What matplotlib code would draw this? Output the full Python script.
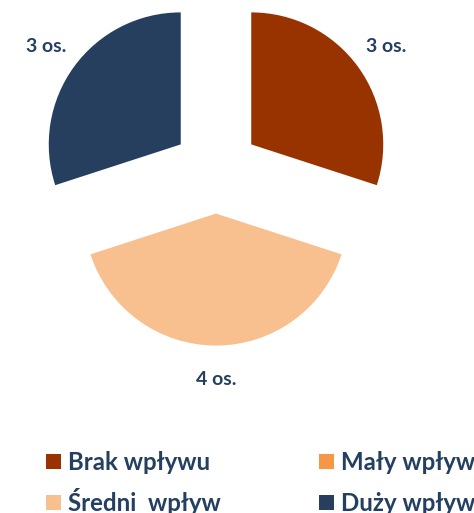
import matplotlib
matplotlib.use("Agg")
import matplotlib.pyplot as plt

# dane
categories = ["Brak wpływu", "Mały wpływ", "Średni  wpływ", "Duży wpływ"]
values = [3, 0, 4, 3]
colors = ["#983300", "#F79646", "#F9C08F", "#263F5F"]
text_color = "#243F60"

plt.rcParams['font.family'] = ['Lato', 'DejaVu Sans']

W, H = 474, 513
fig = plt.figure(figsize=(W / 100, H / 100), dpi=100)
ax = fig.add_axes([0, 0, 1, 1])

labels = [f"{v} os." if v > 0 else "" for v in values]
wedges, texts = ax.pie(values, labels=labels, colors=colors, startangle=90,
                       counterclock=False, explode=[0.33] * len(values),
                       labeldistance=1.26,
                       textprops=dict(color=text_color, fontsize=14, fontweight="bold"))
for t in texts:
    t.set_ha("center")
    t.set_va("center")

# skala: 1 jednostka = 132 px, środek w (216, 170) od góry
R = 132.0
cx, cy = 216, H - 170
ax.set_xlim(-cx / R, (W - cx) / R)
ax.set_ylim(-cy / R, (H - cy) / R)
ax.set_aspect("equal")
ax.axis("off")

# legenda 2x2 (wierszami), każdy wpis osobno, żeby Ś nie przesuwał wiersza
fs = 17.3
fs_px = fs * 100 / 72
col_x = [46, 319]
row_bottom = [474, 515]
for i, (w, name) in enumerate(zip(wedges, categories)):
    x = col_x[i % 2]
    y = row_bottom[i // 2]
    leg = fig.legend([w], [name], loc="lower left", bbox_to_anchor=(x / W, 1 - y / H),
                     frameon=False, borderpad=0, borderaxespad=0,
                     handlelength=15 / fs_px, handleheight=15 / fs_px,
                     handletextpad=7 / fs_px,
                     prop=dict(size=fs, weight="bold"), labelcolor=text_color)

fig.savefig("out.png", dpi=100)
